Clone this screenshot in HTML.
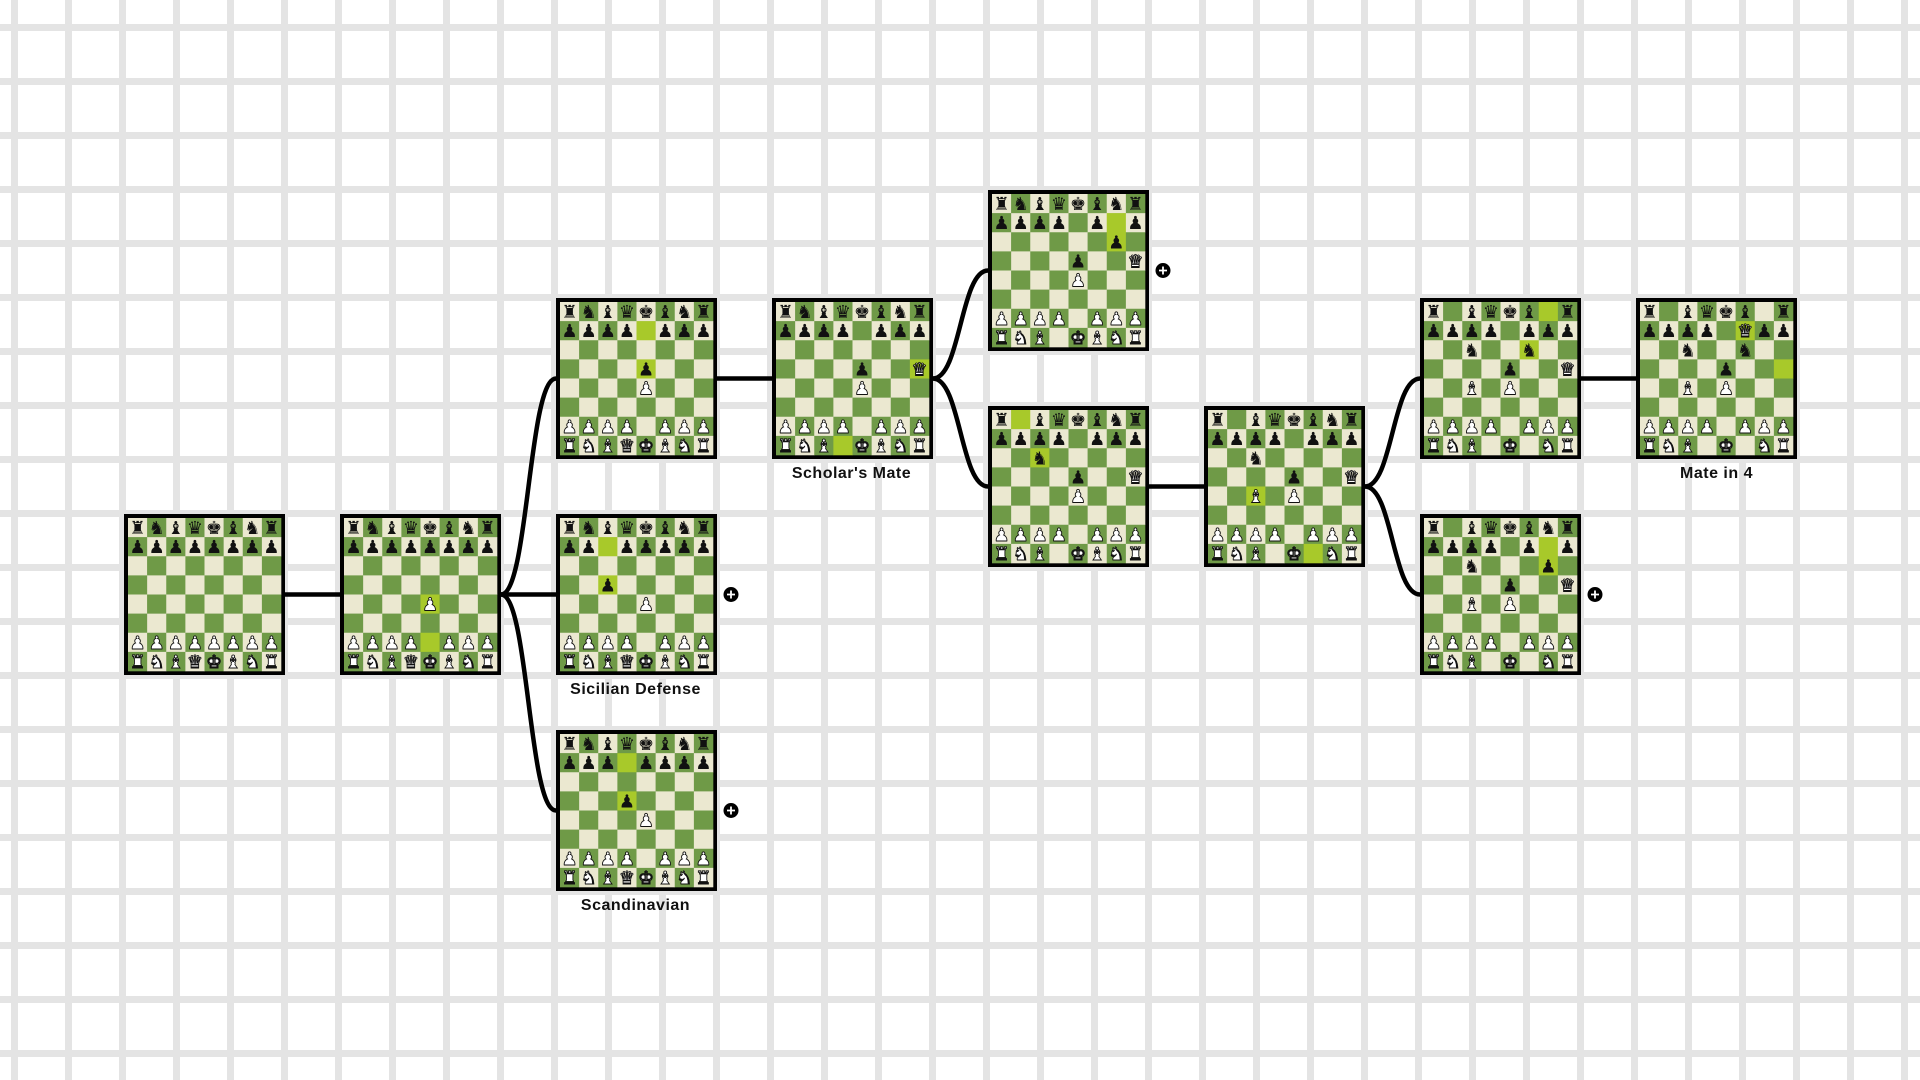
<!DOCTYPE html>
<html><head><meta charset="utf-8">
<style>
html,body{margin:0;padding:0;background:#fff;width:1920px;height:1080px;overflow:hidden}
svg{display:block}
.lbl{font-family:"Liberation Sans",sans-serif;font-weight:bold;font-size:16px;fill:#111;letter-spacing:0.5px}
</style></head>
<body>
<svg id="s" width="1920" height="1080" xmlns="http://www.w3.org/2000/svg">
<defs>
<pattern id="g" x="0" y="0" width="54" height="54" patternUnits="userSpaceOnUse" patternTransform="translate(1,0)">
<rect x="10" y="0" width="7" height="54" fill="#e4e4e4"/>
<rect x="0" y="24" width="54" height="7" fill="#e4e4e4"/>
</pattern>
</defs>
<rect width="1920" height="1080" fill="url(#g)"/>
<g id="edges" fill="none" stroke="#000" stroke-width="4.5"></g>
<g id="boards"></g>
<text class="lbl" x="635.5" y="694" text-anchor="middle">Sicilian Defense</text>
<text class="lbl" x="635.5" y="910" text-anchor="middle">Scandinavian</text>
<text class="lbl" x="851.5" y="478" text-anchor="middle">Scholar's Mate</text>
<text class="lbl" x="1716.5" y="478" text-anchor="middle">Mate in 4</text>
</svg>
<script>
var S=161,B=4,Q=(S-2*B)/8;
function X(c){return 124+216*c;}
var N={
A:[0,514,"rnbqkbnr/pppppppp/8/8/8/8/PPPPPPPP/RNBQKBNR",[]],
B:[1,514,"rnbqkbnr/pppppppp/8/8/4P3/8/PPPP1PPP/RNBQKBNR",["e2","e4"]],
C:[2,298,"rnbqkbnr/pppp1ppp/8/4p3/4P3/8/PPPP1PPP/RNBQKBNR",["e7","e5"]],
D:[2,514,"rnbqkbnr/pp1ppppp/8/2p5/4P3/8/PPPP1PPP/RNBQKBNR",["c7","c5"]],
E:[2,730,"rnbqkbnr/ppp1pppp/8/3p4/4P3/8/PPPP1PPP/RNBQKBNR",["d7","d5"]],
F:[3,298,"rnbqkbnr/pppp1ppp/8/4p2Q/4P3/8/PPPP1PPP/RNB1KBNR",["d1","h5"]],
G:[4,190,"rnbqkbnr/pppp1p1p/6p1/4p2Q/4P3/8/PPPP1PPP/RNB1KBNR",["g7","g6"]],
H:[4,406,"r1bqkbnr/pppp1ppp/2n5/4p2Q/4P3/8/PPPP1PPP/RNB1KBNR",["b8","c6"]],
I:[5,406,"r1bqkbnr/pppp1ppp/2n5/4p2Q/2B1P3/8/PPPP1PPP/RNB1K1NR",["f1","c4"]],
J:[6,298,"r1bqkb1r/pppp1ppp/2n2n2/4p2Q/2B1P3/8/PPPP1PPP/RNB1K1NR",["g8","f6"]],
K:[7,298,"r1bqkb1r/pppp1Qpp/2n2n2/4p3/2B1P3/8/PPPP1PPP/RNB1K1NR",["h5","f7"]],
L:[6,514,"r1bqkbnr/pppp1p1p/2n3p1/4p2Q/2B1P3/8/PPPP1PPP/RNB1K1NR",["g7","g6"]]
};
var E=[["A","B"],["B","C"],["B","D"],["B","E"],["C","F"],["F","G"],["F","H"],["H","I"],["I","J"],["I","L"],["J","K"]];
var plus=["D","E","G","L"];
var G={k:"\u265A",q:"\u265B",r:"\u265C",b:"\u265D",n:"\u265E",p:"\u265F"};
var eg=document.getElementById("edges"),bg=document.getElementById("boards"),h="";
E.forEach(function(e){var a=N[e[0]],b=N[e[1]];var x1=X(a[0])+S,y1=a[1]+S/2,x2=X(b[0]),y2=b[1]+S/2,m=(x1+x2)/2;
h+='<path d="M'+x1+' '+y1+' C'+m+' '+y1+' '+m+' '+y2+' '+x2+' '+y2+'"/>';});
eg.innerHTML=h;h="";
for(var k in N){var n=N[k],x=X(n[0]),y=n[1];
h+='<rect x="'+(x+B/2)+'" y="'+(y+B/2)+'" width="'+(S-B)+'" height="'+(S-B)+'" fill="#000" stroke="#000" stroke-width="'+B+'"/>';
var rows=n[2].split("/");
for(var r=0;r<8;r++){var c=0;for(var i=0;i<rows[r].length;i++){var ch=rows[r][i];
if(/\d/.test(ch)){for(var j=0;j<+ch;j++){sq(c,r,null);c++;}}else{sq(c,r,ch);c++;}}}
function sq(c,r,p){var sx=x+B+c*Q,sy=y+B+r*Q;var name="abcdefgh"[c]+(8-r);
var col=((c+r)%2==0)?"#ebe8d0":"#6f9a47";if(n[3].indexOf(name)>=0)col="#a8c92a";
h+='<rect x="'+sx.toFixed(2)+'" y="'+sy.toFixed(2)+'" width="'+(Q+0.3).toFixed(2)+'" height="'+(Q+0.3).toFixed(2)+'" fill="'+col+'"/>';
if(p){var w=p===p.toUpperCase();var gl=G[p.toLowerCase()];
h+='<text x="'+(sx+Q/2).toFixed(2)+'" y="'+(sy+Q/2+6.5).toFixed(2)+'" text-anchor="middle" font-family="DejaVu Sans" font-size="18" fill="'+(w?'#fff':'#111')+'" stroke="'+(w?'#111':'none')+'" stroke-width="0.9">'+gl+'</text>';}}
}
plus.forEach(function(k){var n=N[k],cx=X(n[0])+S+14,cy=n[1]+S/2;
h+='<circle cx="'+cx+'" cy="'+cy+'" r="7.5" fill="#000"/><path d="M'+(cx-4)+' '+cy+'H'+(cx+4)+'M'+cx+' '+(cy-4)+'V'+(cy+4)+'" stroke="#fff" stroke-width="1.8"/>';});
bg.innerHTML=h;
</script>
</body></html>
